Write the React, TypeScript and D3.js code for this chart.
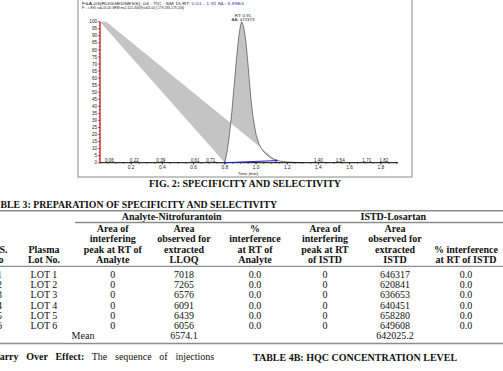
import React from "react";
import * as d3 from "d3";

// chromatogram trace (time in min, relative abundance %)
const traceTime = [0.8, 0.815, 0.83, 0.845, 0.86, 0.875, 0.89, 0.9, 0.908, 0.92, 0.935, 0.95, 0.965, 0.98, 1.0, 1.02, 1.04, 1.06, 1.08, 1.1, 1.13, 1.16, 1.2, 1.25, 1.3];
const traceValue = [0, 8, 20, 36, 55, 74, 90, 97, 100, 97, 86, 68, 48, 33, 20, 13, 9, 6.5, 4.5, 3, 1.8, 1, 0.5, 0.2, 0];
// the two stray vertices that close the filled trace polygon at the top left
const strayTime = [0.0, 0.04];
const strayValue = [100, 100];
// integration baseline
const baseTime = [0.8, 1.13];
const baseValue = [0, 1.5];
const peakLabels = [0.06, 0.22, 0.39, 0.61, 0.71, 1.4, 1.54, 1.71, 1.82];
const apex = { rt: 0.91, value: 100, area: 472373 };

// table 3
const lots = ["LOT 1", "LOT 2", "LOT 3", "LOT 4", "LOT 5", "LOT 6"];
const analyteInterfering = [0, 0, 0, 0, 0, 0];
const lloqArea = [7018, 7265, 6576, 6091, 6439, 6056];
const analyteInterference = [0, 0, 0, 0, 0, 0];
const istdInterfering = [0, 0, 0, 0, 0, 0];
const istdArea = [646317, 620841, 636653, 640451, 658280, 649608];
const istdInterference = [0, 0, 0, 0, 0, 0];
const lloqMean = "6574.1";
const istdMean = "642025.2";

const colHeaders = [
  ["", "", "S.", "No"],
  ["", "", "Plasma", "Lot No."],
  ["Area of", "interfering", "peak at RT of", "Analyte"],
  ["Area", "observed for", "extracted", "LLOQ"],
  ["%", "interference", "at RT of", "Analyte"],
  ["Area of", "interfering", "peak at RT", "of ISTD"],
  ["Area", "observed for", "extracted", "ISTD"],
  ["", "", "% interference", "at RT of ISTD"],
];

const W = 503;
const H = 371;
const SERIF = "'Liberation Serif', 'Times New Roman', serif";
const SANS = "'Liberation Sans', Arial, sans-serif";

const Chromatogram = () => {
  const x = d3.scaleLinear().domain([0, 1.91]).range([100, 398]);
  const y = d3.scaleLinear().domain([0, 100]).range([162.7, 21.7]);
  const line = d3.line<[number, number]>().x((d) => x(d[0])).y((d) => y(d[1]));

  const trace: [number, number][] = traceTime.map((t, i) => [t, traceValue[i]]);
  const fillPts: [number, number][] = [
    [strayTime[0], strayValue[0]],
    ...trace.filter((d) => d[0] <= 1.13),
    [strayTime[1], strayValue[1]],
  ];

  const major = x.ticks(10).filter((t) => t > 0);
  const minor = d3.range(0, 1.91, 0.05);
  const yMajor = y.ticks(20);
  const yMinor = d3.range(0, 100.1, 2.5);

  return (
    <g>
      <rect x={78} y={-1} width={334} height={178} fill="#fff" stroke="#8a8a8a" strokeWidth={1} />
      <g fontFamily={SANS} fontSize={4.4} fill="#222">
        <text x={82} y={4.6} textLength={162} lengthAdjust="spacingAndGlyphs">
          F&amp;A-03(RUGGEDNESS)_04 :  TIC  : SM 15  RT: <tspan fill="#3333cc">0.01 - 1.91</tspan>   NL: <tspan fill="#3333cc">6.89E4</tspan>
        </text>
        <text x={82} y={8.8} textLength={102} lengthAdjust="spacingAndGlyphs">F: - c ESI sid=15.00  SRM ms2 421.300@cid11.00 [ 179.195-179.205]</text>
      </g>

      <path d={line(fillPts) + "Z"} fill="#c4c4c4" fillRule="evenodd" stroke="none" />
      <path d={line(trace) ?? ""} fill="none" stroke="#333" strokeWidth={0.6} />

      {/* x axis */}
      <line x1={x(0)} x2={x(1.91)} y1={y(0)} y2={y(0)} stroke="#000" strokeWidth={1} />
      {minor.map((t) => (
        <line key={"m" + t} x1={x(t)} x2={x(t)} y1={y(0)} y2={y(0) + 1.2} stroke="#000" strokeWidth={0.5} />
      ))}
      {major.map((t) => (
        <g key={"M" + t}>
          <line x1={x(t)} x2={x(t)} y1={y(0)} y2={y(0) + 2} stroke="#000" strokeWidth={0.6} />
          <text x={x(t)} y={169.3} textAnchor="middle" fontFamily={SANS} fontSize={4.8} fill="#222">
            {d3.format(".1f")(t)}
          </text>
        </g>
      ))}
      <text x={248} y={174.6} textAnchor="middle" fontFamily={SANS} fontSize={4.3} fill="#222">
        Time (min)
      </text>

      {/* y axis */}
      <line x1={x(0)} x2={x(0)} y1={y(0)} y2={y(100)} stroke="#c00000" strokeWidth={1.2} />
      {yMinor.map((v) => (
        <line key={"ym" + v} x1={x(0) - 1.2} x2={x(0)} y1={y(v)} y2={y(v)} stroke="#c00000" strokeWidth={0.5} />
      ))}
      {yMajor.map((v) => (
        <g key={"yM" + v}>
          <line x1={x(0) - 2.2} x2={x(0)} y1={y(v)} y2={y(v)} stroke="#c00000" strokeWidth={0.6} />
          <text x={97} y={y(v)} dy="0.35em" textAnchor="end" fontFamily={SANS} fontSize={4.6} fill="#222">
            {v}
          </text>
        </g>
      ))}

      {/* integration baseline */}
      <line x1={x(baseTime[0])} x2={x(baseTime[1])} y1={y(baseValue[0])} y2={y(baseValue[1])} stroke="#2222cc" strokeWidth={1} />
      {baseTime.map((t, i) => (
        <path key={"b" + i} d={`M${x(t) - 1.6},${y(baseValue[i]) + 0.8}L${x(t) + 1.6},${y(baseValue[i]) + 0.8}L${x(t)},${y(baseValue[i]) - 1.6}Z`} fill="#2222cc" />
      ))}

      {/* peak labels */}
      {peakLabels.map((t) => (
        <text key={"p" + t} x={x(t)} y={162.2} textAnchor="middle" fontFamily={SANS} fontSize={4.6} fill="#222">
          {d3.format(".2f")(t)}
        </text>
      ))}
      <g fontFamily={SANS} fontSize={4.4} fill="#222" textAnchor="middle">
        <text x={x(apex.rt) + 1} y={y(apex.value) - 5.2}>RT: {d3.format(".2f")(apex.rt)}</text>
        <text x={x(apex.rt) + 1} y={y(apex.value) - 0.8}>AA: {apex.area}</text>
      </g>
    </g>
  );
};

const colX = [-0.5, 44, 112.7, 184, 255, 325, 395, 466];
const headBase = [232, 242.3, 252.6, 262.9];
const rowBase = (i: number) => 277.6 + i * 10.3;

const Table = () => {
  const f1 = d3.format(".1f");
  const cols = [
    lots.map((_, i) => String(i + 1)),
    lots,
    analyteInterfering.map(String),
    lloqArea.map(String),
    analyteInterference.map(f1),
    istdInterfering.map(String),
    istdArea.map(String),
    istdInterference.map(f1),
  ];
  return (
    <g fontFamily={SERIF} fontSize={10} fill="#111">
      <text x={0.5} y={208.4} fontWeight="bold" fontSize={9.8}>
        BLE 3: PREPARATION OF SPECIFICITY AND SELECTIVITY
      </text>
      <line x1={0} x2={W} y1={210.8} y2={210.8} stroke="#8c8c8c" strokeWidth={1.5} />
      <text x={171.7} y={220.2} textAnchor="middle" fontWeight="bold">Analyte-Nitrofurantoin</text>
      <text x={393.3} y={220.2} textAnchor="middle" fontWeight="bold">ISTD-Losartan</text>
      <line x1={75} x2={W} y1={222.6} y2={222.6} stroke="#8c8c8c" strokeWidth={1.5} />
      {colHeaders.map((lines, c) =>
        lines.map((s, r) =>
          s ? (
            <text key={`h${c}-${r}`} x={c === 0 ? (r === 2 ? 3.5 : -2.5) : colX[c]} y={headBase[r]} textAnchor="middle" fontWeight="bold">
              {s}
            </text>
          ) : null
        )
      )}
      <line x1={0} x2={W} y1={266.4} y2={266.4} stroke="#8c8c8c" strokeWidth={1.2} />
      {cols.map((vals, c) =>
        vals.map((v, r) => (
          <text key={`d${c}-${r}`} x={colX[c]} y={rowBase(r)} textAnchor="middle">
            {v}
          </text>
        ))
      )}
      <text x={83} y={rowBase(6)} textAnchor="middle">Mean</text>
      <text x={colX[3]} y={rowBase(6)} textAnchor="middle">{lloqMean}</text>
      <text x={colX[6]} y={rowBase(6)} textAnchor="middle">{istdMean}</text>
      <line x1={0} x2={W} y1={343.6} y2={343.6} stroke="#8c8c8c" strokeWidth={1.5} />

      <text x={-7.6} y={359.5} wordSpacing={5.2}>
        <tspan fontWeight="bold">Carry Over Effect:</tspan> The sequence of injections
      </text>
      <text x={253} y={360.5} fontWeight="bold">TABLE 4B: HQC CONCENTRATION LEVEL</text>
    </g>
  );
};

export default function App() {
  return (
    <svg width={W} height={H} viewBox={`0 0 ${W} ${H}`} style={{ position: "absolute", left: 0, top: 0, background: "#fff" }}>
      <rect width={W} height={H} fill="#fff" />
      <Chromatogram />
      <text x={245} y={186.7} textAnchor="middle" fontFamily={SERIF} fontWeight="bold" fontSize={10} fill="#111">
        FIG. 2: SPECIFICITY AND SELECTIVITY
      </text>
      <Table />
    </svg>
  );
}
